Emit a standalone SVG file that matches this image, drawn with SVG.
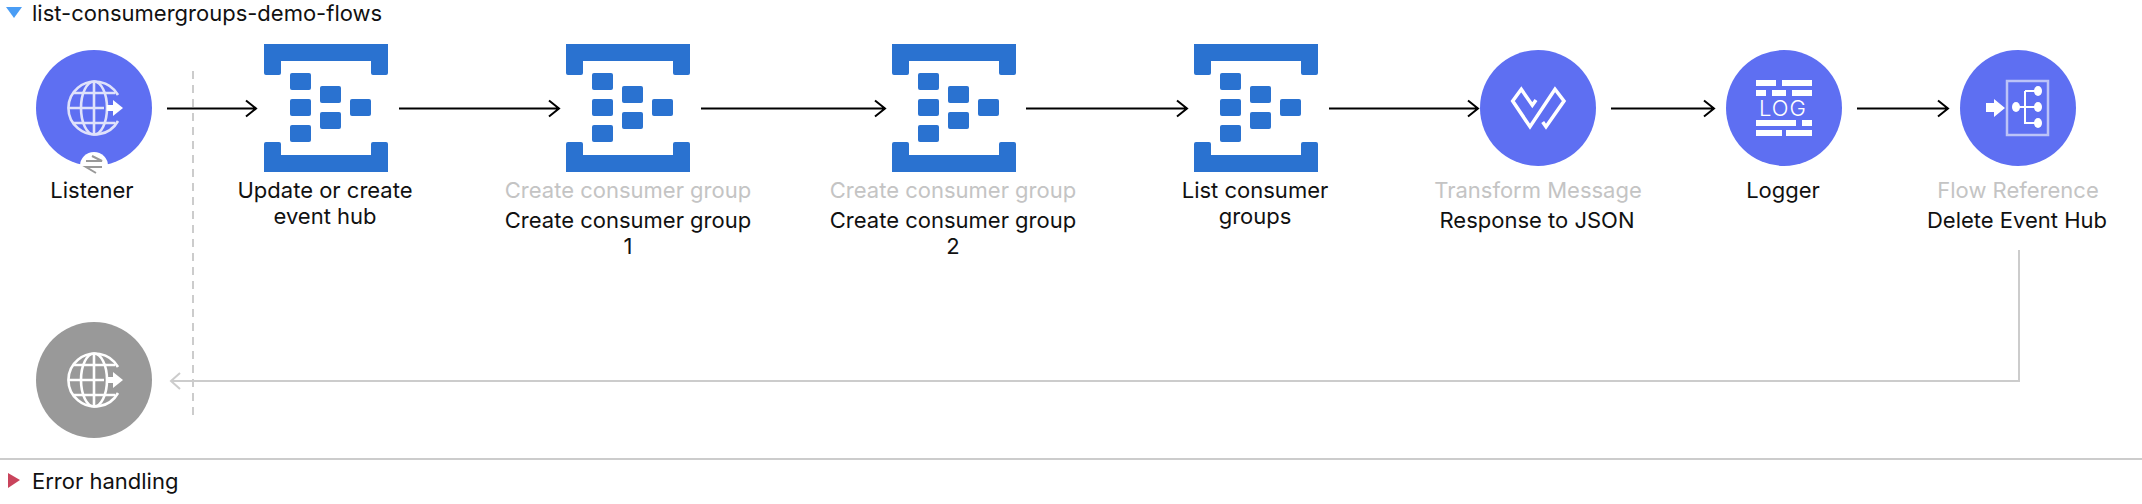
<svg xmlns="http://www.w3.org/2000/svg" width="2142" height="504" viewBox="0 0 2142 504">
<style>
text{font-family:Inter,"Liberation Sans",sans-serif;font-size:22px;fill:#111;text-anchor:middle}
.g{fill:#c4c4c4}
.t{text-anchor:start}
.c{fill:#5e6ff2}
.l{fill:none;stroke:#000;stroke-width:2}
.r{fill:none;stroke:#ccc;stroke-width:2}
.h{fill:#2a72d0}
.w{fill:#fff}
.wl{fill:none;stroke:#fff;stroke-width:3.500}
</style>
<defs>
<g id="hub">
<path class="h" d="M-62-64H62V-35a2 2 0 0 1-2 2H47a2 2 0 0 1-2-2V-47H-45V-35a2 2 0 0 1-2 2H-60a2 2 0 0 1-2-2Z"/>
<path class="h" d="M-62 64H62V36a2 2 0 0 0-2-2H47a2 2 0 0 0-2 2V47H-45V36a2 2 0 0 0-2-2H-60a2 2 0 0 0-2 2Z"/>
<rect class="h" x="-36" y="-35" width="21" height="17" rx="2"/>
<rect class="h" x="-36" y="-9" width="21" height="17" rx="2"/>
<rect class="h" x="-36" y="17" width="21" height="17" rx="2"/>
<rect class="h" x="-6" y="-22" width="21" height="17" rx="2"/>
<rect class="h" x="-6" y="4" width="21" height="17" rx="2"/>
<rect class="h" x="24" y="-9" width="21" height="17" rx="2"/>
</g>
<g id="globe" fill="none" stroke-width="2.600">
<path d="M24-13A26.500 26.500 0 1 0 24 13"/>
<ellipse cx="0" cy="0" rx="13" ry="26.500"/>
<path d="M0-26.500V26.500M-26 0H10M-21-15H21M-21 15H21"/>
</g>
<path id="ah" d="M-10-8L0 0-10 8" fill="none"/>
</defs>
<g id="connectors">
<path class="r" d="M193 71V417" stroke-dasharray="8 6"/>
<path class="l" d="M167 108.500H255M246 100.500l10 8-10 8"/>
<path class="l" d="M399 108.500H558M549 100.500l10 8-10 8"/>
<path class="l" d="M701 108.500H884M875 100.500l10 8-10 8"/>
<path class="l" d="M1026 108.500H1186M1177 100.500l10 8-10 8"/>
<path class="l" d="M1329 108.500H1477M1468 100.500l10 8-10 8"/>
<path class="l" d="M1611 108.500H1713M1704 100.500l10 8-10 8"/>
<path class="l" d="M1857 108.500H1947M1938 100.500l10 8-10 8"/>
<path class="r" d="M2019 250V381H171M180 373l-9 8 9 8"/>
</g>
<g id="flow-header">
<path d="M6 7H22L14 18Z" fill="#4a9df5"/>
<text class="t" x="32" y="21">list-consumergroups-demo-flows</text>
</g>
<g id="listener">
<circle class="c" cx="94" cy="108" r="58"/>
<circle cx="94" cy="166" r="14" fill="#fff"/>
<use href="#globe" x="94" y="108" stroke="#dfe2fb"/>
<path d="M107 105H113V100L123 108 113 116V111H107Z" fill="#fff"/>
<path d="M86 161H102L92 156M102 167H86L96 173" fill="none" stroke="#999" stroke-width="2"/>
<text x="92" y="198">Listener</text>
</g>
<g id="update-hub">
<use href="#hub" x="326" y="108"/>
<text x="325" y="198">Update or create</text>
<text x="325" y="224">event hub</text>
</g>
<g id="create-1">
<use href="#hub" x="628" y="108"/>
<text class="g" x="628" y="198">Create consumer group</text>
<text x="628" y="228">Create consumer group</text>
<text x="628" y="254">1</text>
</g>
<g id="create-2">
<use href="#hub" x="954" y="108"/>
<text class="g" x="953" y="198">Create consumer group</text>
<text x="953" y="228">Create consumer group</text>
<text x="953" y="254">2</text>
</g>
<g id="list-groups">
<use href="#hub" x="1256" y="108"/>
<text x="1255" y="198">List consumer</text>
<text x="1255" y="224">groups</text>
</g>
<g id="transform">
<circle class="c" cx="1538" cy="108" r="58"/>
<path class="wl" d="M1536 100L1532.300 105.300 1521.300 89.300 1512.700 101 1530 126.700 1555 89.300 1564 101 1546 126.700 1542.700 122"/>
<text class="g" x="1538" y="198">Transform Message</text>
<text x="1537" y="228">Response to JSON</text>
</g>
<g id="logger">
<circle class="c" cx="1784" cy="108" r="58"/>
<path class="w" d="M1756 80h20v6h-20zM1782 80h30v6h-30zM1756 90h10v6h-10zM1772 90h14v6h-14zM1792 90h20v6h-20zM1756 120h40v6h-40zM1802 120h10v6h-10zM1756 130h26v6h-26zM1786 130h26v6h-26z"/>
<text x="1783" y="116" style="font-size:22px;font-weight:300;fill:#fff;letter-spacing:1px">LOG</text>
<text x="1783" y="198">Logger</text>
</g>
<g id="flow-ref">
<circle class="c" cx="2018" cy="108" r="58"/>
<rect x="2007" y="81" width="41" height="54" fill="none" stroke="#bcc3f8" stroke-width="2.500"/>
<path d="M1986 103H1994V99L2005 108 1994 117V112H1986Z" fill="#fff"/>
<path d="M2016 107H2038M2025 91V123H2038M2025 91H2038" fill="none" stroke="#fff" stroke-width="2"/>
<ellipse class="w" cx="2016" cy="107" rx="4" ry="5"/>
<ellipse class="w" cx="2038" cy="91" rx="4" ry="5"/>
<ellipse class="w" cx="2038" cy="107" rx="4" ry="5"/>
<ellipse class="w" cx="2038" cy="123" rx="4" ry="5"/>
<text class="g" x="2018" y="198">Flow Reference</text>
<text x="2017" y="228">Delete Event Hub</text>
</g>
<g id="listener-response">
<circle cx="94" cy="380" r="58" fill="#999"/>
<use href="#globe" x="94" y="380" stroke="#fff"/>
<path d="M107 377H113V372L123 380 113 388V383H107Z" fill="#fff"/>
</g>
<g id="error-handling">
<path d="M0 459H2142" stroke="#ccc" stroke-width="2"/>
<path d="M8 473V488L20 480Z" fill="#c9445c"/>
<text class="t" x="32" y="489">Error handling</text>
</g>
</svg>
